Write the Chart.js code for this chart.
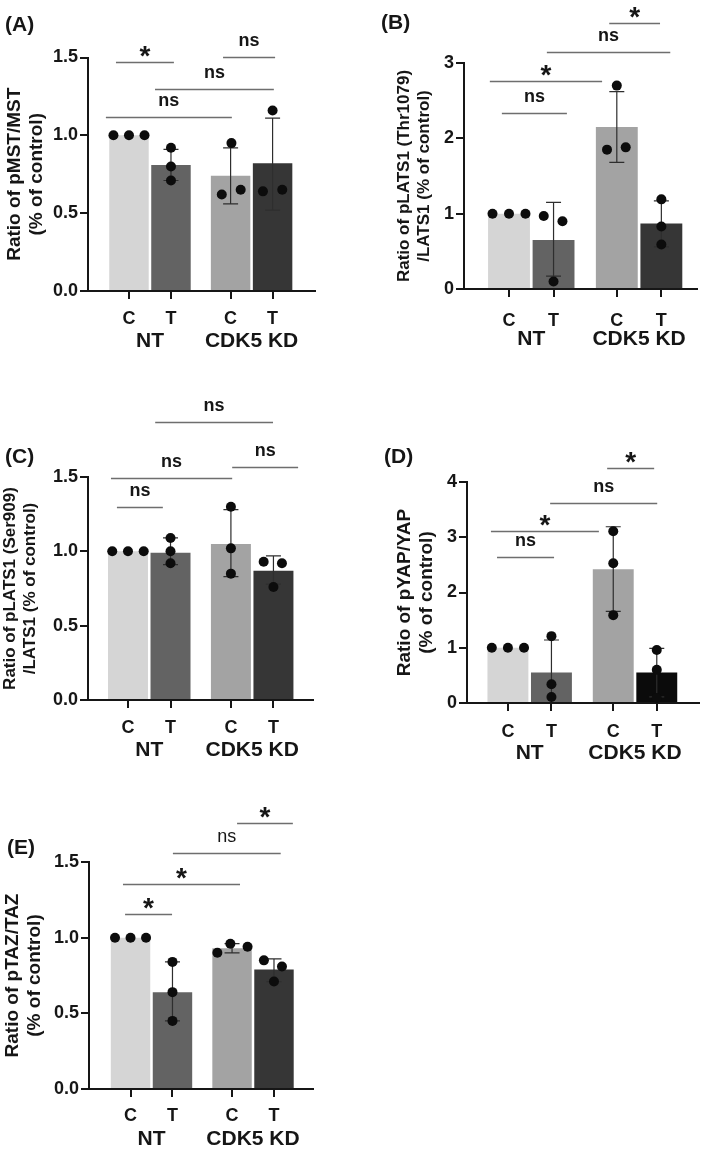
<!DOCTYPE html>
<html>
<head>
<meta charset="utf-8">
<script src="https://cdn.jsdelivr.net/npm/chart.js@4.4.0/dist/chart.umd.min.js"></script>
<style>
  html, body { margin: 0; padding: 0; background: #fff; }
  #wrap { position: relative; width: 709px; height: 1150px; overflow: hidden; }
  #wrap canvas { position: absolute; }
</style>
</head>
<body>
<div id="wrap">
  <canvas id="cA" width="354" height="360" style="left:0;top:0"></canvas>
  <canvas id="cB" width="355" height="360" style="left:354px;top:0"></canvas>
  <canvas id="cC" width="354" height="390" style="left:0;top:380px"></canvas>
  <canvas id="cD" width="355" height="390" style="left:354px;top:380px"></canvas>
  <canvas id="cE" width="354" height="380" style="left:0;top:770px"></canvas>
</div>
<script>
// ---- data ----
const catLabels = ['C', 'T', 'C', 'T'];
const groupLabels = ['NT', 'CDK5 KD'];

// (A) pMST/MST
const aMeans = [1.00, 0.81, 0.74, 0.82];
const aHi = [null, 0.91, 0.92, 1.11];
const aLo = [null, 0.71, 0.56, 0.52];
const aDots = [[1, 1, 1], [0.92, 0.80, 0.71], [0.62, 0.65, 0.95], [0.64, 0.65, 1.16]];
const aJit = [[-0.37, 0, 0.37], [0, 0, 0], [-0.21, 0.24, 0.02], [-0.23, 0.23, 0]];
const aSig = [['*', -0.31, 1.07, 1.468], ['ns', 2.24, 3.48, 1.506], ['ns', 0.62, 3.45, 1.295], ['ns', -0.55, 2.45, 1.12]];

// (B) pLATS1 (Thr1079)/LATS1
const bMeans = [1.00, 0.65, 2.15, 0.87];
const bHi = [null, 1.15, 2.62, 1.17];
const bLo = [null, 0.17, 1.68, 0.56];
const bDots = [[1, 1, 1], [0.97, 0.90, 0.10], [2.70, 1.85, 1.88], [1.19, 0.83, 0.59]];
const bJit = [[-0.37, 0, 0.37], [-0.22, 0.2, 0], [0, -0.22, 0.2], [0, 0, 0]];
const bSig = [['ns', -0.16, 1.30, 2.33], ['*', -0.43, 2.09, 2.76], ['ns', 0.85, 3.62, 3.15], ['*', 2.25, 3.39, 3.53]];

// (C) pLATS1 (Ser909)/LATS1
const cMeans = [1.00, 0.99, 1.05, 0.87];
const cHi = [null, 1.09, 1.28, 0.97];
const cLo = [null, 0.91, 0.83, 0.78];
const cDots = [[1, 1, 1], [1.09, 1.00, 0.92], [1.30, 1.02, 0.85], [0.93, 0.92, 0.76]];
const cJit = [[-0.37, 0, 0.37], [0, 0, 0], [0, 0, 0], [-0.23, 0.2, 0]];
const cSig = [['ns', -0.26, 0.82, 1.30], ['ns', -0.40, 2.45, 1.49], ['ns', 2.45, 4.0, 1.57], ['ns', 0.64, 3.41, 1.87]];

// (D) pYAP/YAP
const dMeans = [1.00, 0.55, 2.42, 0.55];
const dHi = [null, 1.14, 3.19, 0.99];
const dLo = [null, -0.04, 1.66, 0.11];
const dDots = [[1, 1, 1], [1.21, 0.34, 0.11], [3.11, 2.53, 1.59], [0.96, 0.60, 0.09]];
const dJit = [[-0.37, 0, 0.37], [0, 0, 0], [0, 0, 0], [0, 0, 0]];
const dSig = [['ns', -0.25, 1.06, 2.64], ['*', -0.39, 2.09, 3.11], ['ns', 0.97, 3.43, 3.62], ['*', 2.28, 3.36, 4.25]];

// (E) pTAZ/TAZ
const eMeans = [1.00, 0.64, 0.93, 0.79];
const eHi = [null, 0.84, 0.96, 0.86];
const eLo = [null, 0.45, 0.90, 0.71];
const eDots = [[1, 1, 1], [0.84, 0.64, 0.45], [0.90, 0.96, 0.94], [0.85, 0.81, 0.71]];
const eJit = [[-0.37, 0, 0.37], [0, 0, 0], [-0.35, -0.04, 0.37], [-0.24, 0.19, 0]];
const eSig = [['*', -0.13, 0.99, 1.156], ['*', -0.18, 2.61, 1.354], ['ns', 1.01, 3.58, 1.559], ['*', 2.54, 3.87, 1.757]];

// ---- drawing ----
const FONT = "'Liberation Sans', Arial, Helvetica, sans-serif";
const INK = '#161616';
const greys = ['#d5d5d5', '#636363', '#a3a3a3', '#363636'];
const greysD = ['#d5d5d5', '#636363', '#a3a3a3', '#0b0b0b'];
const slots = [0, 1, 2.42, 3.42];   // bar slots on the x scale

function makePanel(id, p) {
  const bars = p.means.map((m, i) => ({ x: slots[i], y: m }));
  const pts = [];
  p.dots.forEach((arr, i) => arr.forEach((v, j) => pts.push({ x: slots[i] + p.jit[i][j], y: v })));

  const decor = {
    id: 'decor_' + id,
    afterDatasetDraw(chart, args) {
      if (args.index !== 0) return;
      const { ctx, chartArea: ca, scales: { x, y } } = chart;
      ctx.save();
      ctx.beginPath(); ctx.rect(ca.left, ca.top - 30, ca.right - ca.left, ca.bottom - ca.top + 29); ctx.clip();
      ctx.strokeStyle = '#2e2e2e'; ctx.lineWidth = 1.2;
      p.hi.forEach((h, i) => {
        if (h == null) return;
        const cx = x.getPixelForValue(slots[i]);
        const yh = y.getPixelForValue(h), yl = y.getPixelForValue(p.lo[i]);
        ctx.beginPath();
        ctx.moveTo(cx, yh); ctx.lineTo(cx, yl);
        ctx.moveTo(cx - 7.5, yh); ctx.lineTo(cx + 7.5, yh);
        ctx.moveTo(cx - 7.5, yl); ctx.lineTo(cx + 7.5, yl);
        ctx.stroke();
      });
      ctx.restore();
    },
    afterDraw(chart) {
      const { ctx, chartArea: ca, scales: { x, y } } = chart;
      ctx.save();
      // significance brackets
      p.sig.forEach(([lab, x1, x2, yv]) => {
        const yp = Math.round(y.getPixelForValue(yv)) + 0.5;
        const px1 = x.getPixelForValue(x1), px2 = x.getPixelForValue(x2);
        ctx.strokeStyle = '#6e6e6e'; ctx.lineWidth = 1.3;
        ctx.beginPath(); ctx.moveTo(px1, yp); ctx.lineTo(px2, yp); ctx.stroke();
        ctx.fillStyle = INK; ctx.textAlign = 'center'; ctx.textBaseline = 'alphabetic';
        if (lab === '*') {
          ctx.font = 'bold 28px ' + FONT;
          ctx.fillText(lab, (px1 + px2) / 2, yp + 2);
        } else {
          ctx.font = (p.nsWeight || 'bold') + ' 18px ' + FONT;
          ctx.fillText(lab, (px1 + px2) / 2, yp - 12);
        }
      });
      // group labels under the category ticks
      ctx.fillStyle = INK; ctx.textAlign = 'center'; ctx.textBaseline = 'middle';
      ctx.font = 'bold 21px ' + FONT;
      ctx.fillText(groupLabels[0], x.getPixelForValue((slots[0] + slots[1]) / 2), ca.bottom + 50);
      ctx.fillText(groupLabels[1], x.getPixelForValue((slots[2] + slots[3]) / 2), ca.bottom + 50);
      // panel letter
      ctx.textAlign = 'left';
      ctx.font = 'bold 21px ' + FONT;
      ctx.fillText(p.letter, p.lx, p.ly);
      ctx.restore();
    }
  };

  const axisLine = { color: INK, width: 2 };
  const tickGrid = { drawOnChartArea: false, drawTicks: true, tickLength: 8, color: INK, lineWidth: 2, offset: false };

  return new Chart(document.getElementById(id), {
    type: 'bar',
    data: {
      datasets: [
        // higher order is painted first: bars under the dots
        { type: 'bar', order: 2, data: bars, backgroundColor: p.colors, borderWidth: 0,
          barPercentage: 0.94, categoryPercentage: 1 },
        { type: 'scatter', order: 1, data: pts, pointRadius: 5, pointBackgroundColor: '#0c0c0c',
          pointBorderWidth: 0, clip: false }
      ]
    },
    options: {
      responsive: false,
      animation: false,
      events: [],
      layout: { padding: { top: p.pt, right: p.pr, left: 0, bottom: 0 } },
      plugins: { legend: { display: false }, tooltip: { enabled: false } },
      scales: {
        x: {
          type: 'linear', min: p.xMin, max: p.xMax, offset: false,
          afterBuildTicks: s => { s.ticks = slots.map(v => ({ value: v })); },
          afterFit: s => { s.height = p.xH; },
          ticks: { callback: (v, i) => catLabels[i], autoSkip: false, maxRotation: 0, padding: p.cPad,
                   color: INK, font: { family: FONT, size: 18, weight: 'bold' } },
          grid: tickGrid, border: axisLine
        },
        y: {
          min: 0, max: p.yMax,
          afterFit: s => { s.width = p.yW; },
          ticks: { stepSize: p.step, padding: 2, color: INK,
                   callback: v => p.step < 1 ? v.toFixed(1) : String(v),
                   font: { family: FONT, size: 18, weight: 'bold' } },
          grid: tickGrid, border: axisLine,
          title: { display: true, text: p.title, color: INK,
                   font: { family: FONT, size: p.tSize, weight: 'bold', lineHeight: 1.15 },
                   padding: { top: p.tPad, bottom: 0 } }
        }
      }
    },
    plugins: [decor]
  });
}

makePanel('cA', { means: aMeans, hi: aHi, lo: aLo, dots: aDots, jit: aJit, sig: aSig, colors: greys,
  yMax: 1.5, step: 0.5, xMin: -0.976, xMax: 4.43, yW: 88, xH: 69, pt: 57.5, pr: 39, cPad: 9,
  title: ['Ratio of pMST/MST', '(% of control)'], tSize: 19, tPad: 4, letter: '(A)', lx: 5, ly: 25 });

makePanel('cB', { means: bMeans, hi: bHi, lo: bLo, dots: bDots, jit: bJit, sig: bSig, colors: greys,
  yMax: 3, step: 1, xMin: -1.01, xMax: 4.22, yW: 110, xH: 71, pt: 63, pr: 12, cPad: 13,
  title: ['Ratio of pLATS1 (Thr1079)', '/LATS1 (% of control)'], tSize: 17, tPad: 41, letter: '(B)', lx: 27, ly: 23 });

makePanel('cC', { means: cMeans, hi: cHi, lo: cLo, dots: cDots, jit: cJit, sig: cSig, colors: greys,
  yMax: 1.5, step: 0.5, xMin: -0.94, xMax: 4.35, yW: 88, xH: 70, pt: 97, pr: 41, cPad: 9,
  title: ['Ratio of pLATS1 (Ser909)', '/LATS1 (% of control)'], tSize: 17, tPad: 1, letter: '(C)', lx: 5, ly: 77 });

makePanel('cD', { means: dMeans, hi: dHi, lo: dLo, dots: dDots, jit: dJit, sig: dSig, colors: greysD,
  yMax: 4, step: 1, xMin: -0.94, xMax: 4.39, yW: 113, xH: 67, pt: 102, pr: 10, cPad: 10,
  title: ['Ratio of pYAP/YAP', '(% of control)'], tSize: 19, tPad: 40, letter: '(D)', lx: 30, ly: 77 });

makePanel('cE', { means: eMeans, hi: eHi, lo: eLo, dots: eDots, jit: eJit, sig: eSig, colors: greys,
  yMax: 1.5, step: 0.5, xMin: -0.99, xMax: 4.35, yW: 89, xH: 61, pt: 92, pr: 41, cPad: 8, nsWeight: 'normal',
  title: ['Ratio of pTAZ/TAZ', '(% of control)'], tSize: 19, tPad: 2, letter: '(E)', lx: 7, ly: 78 });
</script>
</body>
</html>
